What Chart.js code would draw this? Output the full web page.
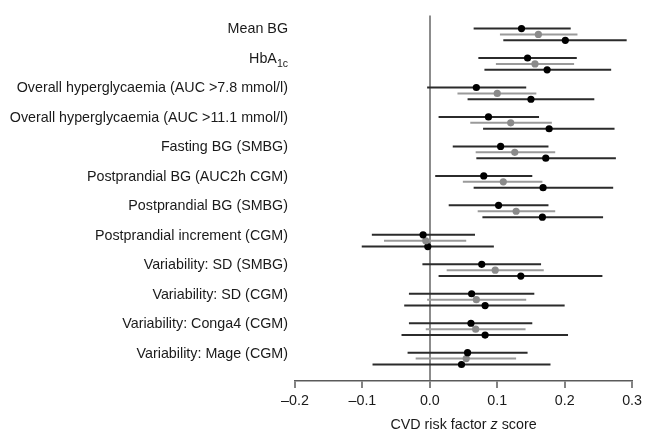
<!DOCTYPE html>
<html>
<head>
<meta charset="utf-8">
<script src="https://cdn.jsdelivr.net/npm/chart.js@4"></script>
<style>
  html, body { margin: 0; padding: 0; background: #fff; }
  #wrap { width: 646px; height: 431px; }
</style>
</head>
<body>
<div id="wrap"><canvas id="forestChart"></canvas></div>
<script>
const categories = [
    'Mean BG',
    'HbA1c',
    'Overall hyperglycaemia (AUC >7.8 mmol/l)',
    'Overall hyperglycaemia (AUC >11.1 mmol/l)',
    'Fasting BG (SMBG)',
    'Postprandial BG (AUC2h CGM)',
    'Postprandial BG (SMBG)',
    'Postprandial increment (CGM)',
    'Variability: SD (SMBG)',
    'Variability: SD (CGM)',
    'Variability: Conga4 (CGM)',
    'Variability: Mage (CGM)'
];

// top (black) row of each group
const estA = [0.136, 0.145, 0.069, 0.087, 0.105, 0.080, 0.102, -0.010, 0.077, 0.062, 0.061, 0.056];
const lowA = [0.065, 0.072, -0.004, 0.013, 0.034, 0.008, 0.028, -0.086, -0.011, -0.031, -0.031, -0.033];
const highA = [0.209, 0.218, 0.143, 0.162, 0.176, 0.152, 0.176, 0.067, 0.165, 0.155, 0.152, 0.145];

// middle (grey) row
const estB = [0.161, 0.156, 0.100, 0.120, 0.126, 0.109, 0.128, -0.006, 0.097, 0.069, 0.068, 0.054];
const lowB = [0.104, 0.098, 0.041, 0.060, 0.068, 0.049, 0.071, -0.068, 0.025, -0.004, -0.006, -0.021];
const highB = [0.219, 0.214, 0.158, 0.181, 0.186, 0.167, 0.186, 0.054, 0.169, 0.143, 0.142, 0.128];

// bottom (black) row
const estC = [0.201, 0.174, 0.150, 0.177, 0.172, 0.168, 0.167, -0.003, 0.135, 0.082, 0.082, 0.047];
const lowC = [0.109, 0.081, 0.056, 0.079, 0.069, 0.065, 0.078, -0.101, 0.013, -0.038, -0.042, -0.085];
const highC = [0.292, 0.269, 0.244, 0.274, 0.276, 0.272, 0.257, 0.095, 0.256, 0.200, 0.205, 0.179];

const xTicks = [-0.2, -0.1, 0.0, 0.1, 0.2, 0.3];

const FONT = "'Liberation Sans', Arial, Helvetica, sans-serif";
const FSIZE = 14.3;
const TEXT = '#1a1a1a';

function makeSet(est, lo, hi, offset, color, lineColor) {
    return {
        data: est.map((v, i) => ({ x: v, y: i + offset })),
        lo: lo,
        hi: hi,
        whiskerColor: lineColor,
        backgroundColor: color,
        borderColor: color,
        pointRadius: 3.6,
        pointHoverRadius: 3.6,
        borderWidth: 0
    };
}

// horizontal confidence intervals, drawn under the points
const whiskers = {
    id: 'whiskers',
    beforeDatasetsDraw(chart) {
        const ctx = chart.ctx;
        const xs = chart.scales.x, ys = chart.scales.y;
        chart.data.datasets.forEach(ds => {
            ctx.save();
            ctx.strokeStyle = ds.whiskerColor;
            ctx.lineWidth = 2;
            ds.data.forEach((p, i) => {
                const py = ys.getPixelForValue(p.y);
                ctx.beginPath();
                ctx.moveTo(xs.getPixelForValue(ds.lo[i]), py);
                ctx.lineTo(xs.getPixelForValue(ds.hi[i]), py);
                ctx.stroke();
            });
            ctx.restore();
        });
    }
};

// HbA1c label with subscript, and axis title with italic z
const extraText = {
    id: 'extraText',
    afterDraw(chart) {
        const ctx = chart.ctx;
        const xs = chart.scales.x, ys = chart.scales.y;
        ctx.save();
        ctx.fillStyle = TEXT;
        ctx.textBaseline = 'middle';

        const right = ys.right - 7;
        const yy = ys.getPixelForValue(1) - 5;
        ctx.font = '10.5px ' + FONT;
        const subW = ctx.measureText('1c').width;
        ctx.textAlign = 'right';
        ctx.fillText('1c', right, yy + 5);
        ctx.font = FSIZE + 'px ' + FONT;
        ctx.fillText('HbA', right - subW, yy);

        const parts = [['CVD risk factor ', 'normal'], ['z', 'italic'], [' score', 'normal']];
        let total = 0;
        parts.forEach(p => { ctx.font = p[1] + ' ' + FSIZE + 'px ' + FONT; total += ctx.measureText(p[0]).width; });
        let tx = (chart.chartArea.left + chart.chartArea.right) / 2 - total / 2;
        const ty = xs.bottom + 16;
        ctx.textAlign = 'left';
        parts.forEach(p => {
            ctx.font = p[1] + ' ' + FSIZE + 'px ' + FONT;
            ctx.fillText(p[0], tx, ty);
            tx += ctx.measureText(p[0]).width;
        });
        ctx.restore();
    }
};

new Chart(document.getElementById('forestChart').getContext('2d'), {
    type: 'scatter',
    data: {
        datasets: [
            makeSet(estA, lowA, highA, -0.2, '#000000', '#2b2b2b'),
            makeSet(estB, lowB, highB, 0, '#8a8a8a', '#9a9a9a'),
            makeSet(estC, lowC, highC, 0.2, '#000000', '#2b2b2b')
        ]
    },
    options: {
        responsive: true,
        maintainAspectRatio: false,
        animation: false,
        layout: { padding: { left: 8, right: 12, top: 12, bottom: 22 } },
        plugins: {
            legend: { display: false },
            tooltip: { enabled: false }
        },
        scales: {
            x: {
                type: 'linear',
                min: -0.2,
                max: 0.3,
                afterBuildTicks: s => { s.ticks = xTicks.map(v => ({ value: v })); },
                afterFit: s => { s.height = 28; },
                border: { display: true, color: '#5a5a5a', width: 1.5 },
                grid: {
                    drawOnChartArea: true,
                    drawTicks: true,
                    tickLength: 7,
                    lineWidth: 2,
                    color: c => (c.tick && c.tick.value === 0) ? '#8c8c8c' : 'rgba(0,0,0,0)',
                    tickColor: '#5a5a5a',
                    tickWidth: 1.5
                },
                ticks: {
                    color: TEXT,
                    padding: 4,
                    font: { family: FONT, size: FSIZE },
                    callback: v => (v < 0 ? '\u2013' : '') + Math.abs(v).toFixed(1)
                }
            },
            y: {
                type: 'linear',
                reverse: true,
                min: -0.64,
                max: 11.76,
                afterBuildTicks: s => { s.ticks = categories.map((c, i) => ({ value: i })); },
                afterFit: s => { s.width = 287; },
                border: { display: false },
                grid: { display: false, drawTicks: false },
                ticks: {
                    color: TEXT,
                    padding: 7,
                    labelOffset: -5,
                    font: { family: FONT, size: FSIZE },
                    callback: v => (v === 1 ? '' : (categories[v] || ''))
                }
            }
        }
    },
    plugins: [whiskers, extraText]
});
</script>
</body>
</html>
